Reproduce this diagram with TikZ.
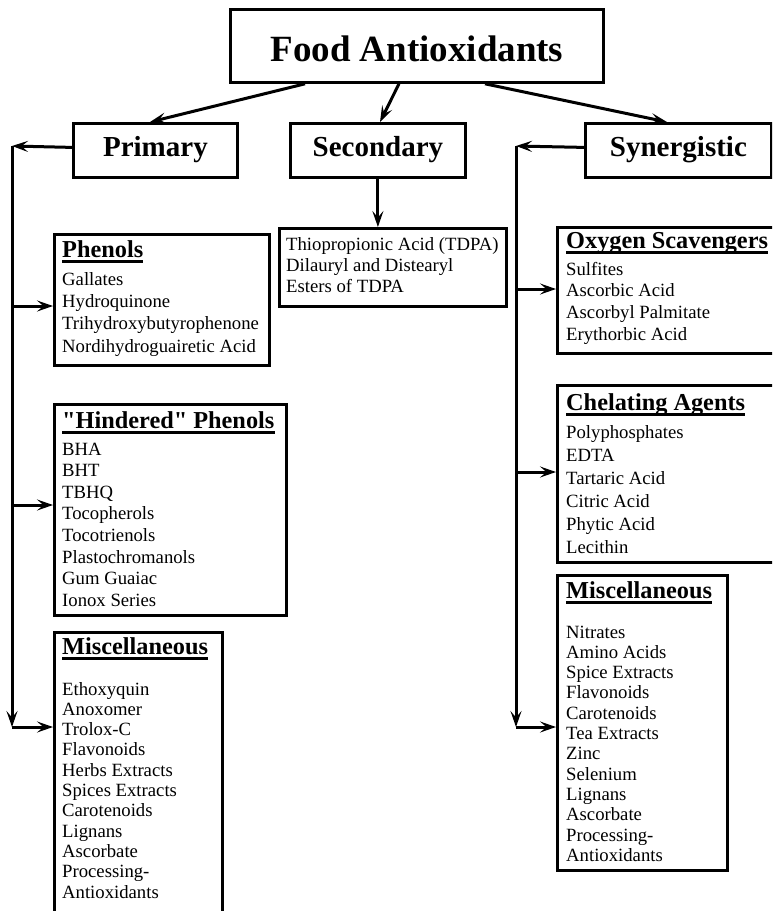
\documentclass[tikz,border=0pt]{standalone}
\usepackage{fontspec}
\setmainfont{Liberation Serif}[Ligatures=TeXOff]
\usetikzlibrary{arrows.meta}
\newcommand{\itemlist}[2]{{\fontsize{18.7}{#1}\selectfont\begin{tabular}[t]{@{}l@{}}#2\end{tabular}}}
\begin{document}
\begin{tikzpicture}[x=1pt,y=-1pt,
 box/.style={draw, line width=2.8pt, inner sep=0pt, rectangle, anchor=north west},
 main/.style={box, minimum height=54pt, font=\bfseries\fontsize{29}{34}\selectfont, text height=20pt, text depth=8pt},
 itm/.style={inner sep=0pt, anchor=base west},
 hdr/.style={inner sep=0pt, anchor=base west, font=\bfseries\fontsize{24.3}{28}\selectfont},
 arr/.style={line width=3pt, -{Stealth[length=16pt,width=11pt,inset=6.5pt]}},
 ul/.style={line width=3.2pt}]
\useasboundingbox (0,0) rectangle (772,911);
\clip (0,0) rectangle (772,911);

% main boxes
\node[box, minimum width=373pt, minimum height=73pt, font=\bfseries\fontsize{37}{42}\selectfont, text height=35pt, text depth=4pt] (title) at (229,8) {Food Antioxidants};
\node[main, minimum width=164pt] (prim) at (72,122) {Primary};
\node[main, minimum width=175pt] (sec) at (289,122) {Secondary};
\node[main, minimum width=186pt] (syn) at (584,122) {Synergistic};

% list boxes
\node[box, minimum width=227pt, minimum height=78pt] (slist) at (278,227) {};
\node[box, minimum width=215pt, minimum height=131pt] (phen) at (53,233) {};
\node[box, minimum width=232pt, minimum height=211pt] (hind) at (53,403) {};
\node[box, minimum width=168pt, minimum height=299pt] (miscL) at (53,631) {};
\node[box, minimum width=244pt, minimum height=126pt] (oxy) at (556,226) {};
\node[box, minimum width=244pt, minimum height=177pt] (chel) at (556,384) {};
\node[box, minimum width=170pt, minimum height=295pt] (miscR) at (556,574) {};

% texts
\node[itm] (tsl) at (286,250.7) {\itemlist{20.7pt}{Thiopropionic Acid (TDPA)\\Dilauryl and Distearyl\\Esters of TDPA}};

\node[hdr] (h1) at (62,257) {Phenols};
\node[itm] (t1) at (62,285.5) {\itemlist{22.2pt}{Gallates\\Hydroquinone\\Trihydroxybutyrophenone\\Nordihydroguairetic Acid}};

\node[hdr] (h2) at (62,428) {"Hindered" Phenols};
\node[itm] (t2) at (62,455) {\itemlist{21.6pt}{BHA\\BHT\\TBHQ\\Tocopherols\\Tocotrienols\\Plastochromanols\\Gum Guaiac\\Ionox Series}};

\node[hdr] (h3) at (62,654) {Miscellaneous};
\node[itm] (t3) at (62,695) {\itemlist{20.3pt}{Ethoxyquin\\Anoxomer\\Trolox-C\\Flavonoids\\Herbs Extracts\\Spices Extracts\\Carotenoids\\Lignans\\Ascorbate\\Processing-\\Antioxidants}};

\node[hdr] (h4) at (566,248) {Oxygen Scavengers};
\node[itm] (t4) at (566,275) {\itemlist{21.8pt}{Sulfites\\Ascorbic Acid\\Ascorbyl Palmitate\\Erythorbic Acid}};

\node[hdr] (h5) at (566,410) {Chelating Agents};
\node[itm] (t5) at (566,438) {\itemlist{23pt}{Polyphosphates\\EDTA\\Tartaric Acid\\Citric Acid\\Phytic Acid\\Lecithin}};

\node[hdr] (h6) at (566,598) {Miscellaneous};
\node[itm] (t6) at (566,638) {\itemlist{20.3pt}{Nitrates\\Amino Acids\\Spice Extracts\\Flavonoids\\Carotenoids\\Tea Extracts\\Zinc\\Selenium\\Lignans\\Ascorbate\\Processing-\\Antioxidants}};

% underlines
\foreach \h in {h1,h2,h3,h4,h5,h6}
  \draw[ul] ([yshift=-4.5pt]\h.base west) -- ([yshift=-4.5pt]\h.base east);

% arrows from title
\draw[arr] ([xshift=76pt]title.south west) -- ([xshift=78pt]prim.north west);
\draw[arr] ([xshift=170pt]title.south west) -- ([xshift=91pt]sec.north west);
\draw[arr] ([xshift=256pt]title.south west) -- ([xshift=83pt]syn.north west);

% secondary
\draw[arr] (sec.south) -- (sec.south |- slist.north);

% left trunk
\coordinate (lc) at (12,146);
\coordinate (lp) at (12,306);
\coordinate (lh) at (12,505);
\coordinate (lb) at (12,727);
\draw[arr] ([yshift=3pt]prim.west) -- (lc);
\draw[arr] (lc) -- (lb);
\draw[arr] (lp) -- (lp -| phen.west);
\draw[arr] (lh) -- (lh -| hind.west);
\draw[arr] (lb) -- (lb -| miscL.west);

% right trunk
\coordinate (rc) at (516,146);
\coordinate (ro) at (516,289);
\coordinate (rh) at (516,472);
\coordinate (rb) at (516,727);
\draw[arr] ([yshift=3pt]syn.west) -- (rc);
\draw[arr] (rc) -- (rb);
\draw[arr] (ro) -- (ro -| oxy.west);
\draw[arr] (rh) -- (rh -| chel.west);
\draw[arr] (rb) -- (rb -| miscR.west);
\end{tikzpicture}
\end{document}
